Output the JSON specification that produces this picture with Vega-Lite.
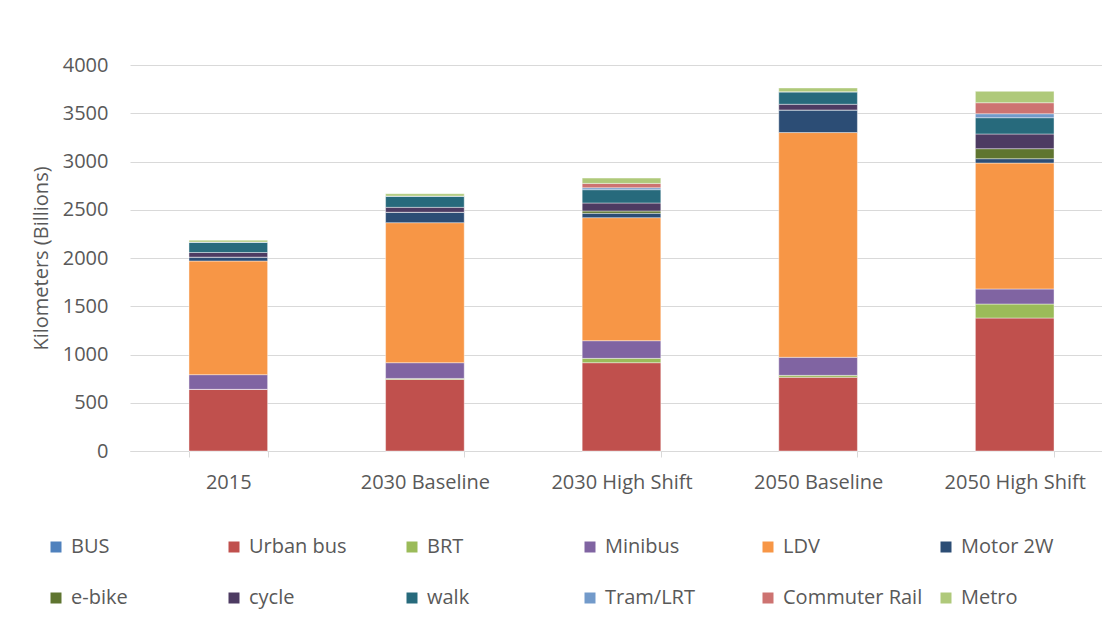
{
  "$schema": "https://vega.github.io/schema/vega-lite/v6.json",
  "autosize": {"type": "none"},
  "width": 972,
  "height": 386,
  "padding": {"left": 130, "top": 65, "right": 0, "bottom": 167},
  "background": "#ffffff",
  "config": {
    "view": {"stroke": null},
    "font": "Open Sans",
    "axis": {"labelFont": "Open Sans", "titleFont": "Open Sans"},
    "legend": {"labelFont": "Open Sans"}
  },
  "data": {
    "values": [
      {"scenario": "2015", "mode": "BUS", "km": 0},
      {"scenario": "2015", "mode": "Urban bus", "km": 639},
      {"scenario": "2015", "mode": "BRT", "km": 0},
      {"scenario": "2015", "mode": "Minibus", "km": 152},
      {"scenario": "2015", "mode": "LDV", "km": 1178},
      {"scenario": "2015", "mode": "Motor 2W", "km": 40},
      {"scenario": "2015", "mode": "e-bike", "km": 0},
      {"scenario": "2015", "mode": "cycle", "km": 48},
      {"scenario": "2015", "mode": "walk", "km": 108},
      {"scenario": "2015", "mode": "Tram/LRT", "km": 0},
      {"scenario": "2015", "mode": "Commuter Rail", "km": 0},
      {"scenario": "2015", "mode": "Metro", "km": 20},
      {"scenario": "2030 Baseline", "mode": "BUS", "km": 0},
      {"scenario": "2030 Baseline", "mode": "Urban bus", "km": 742},
      {"scenario": "2030 Baseline", "mode": "BRT", "km": 10},
      {"scenario": "2030 Baseline", "mode": "Minibus", "km": 163},
      {"scenario": "2030 Baseline", "mode": "LDV", "km": 1451},
      {"scenario": "2030 Baseline", "mode": "Motor 2W", "km": 108},
      {"scenario": "2030 Baseline", "mode": "e-bike", "km": 0},
      {"scenario": "2030 Baseline", "mode": "cycle", "km": 51},
      {"scenario": "2030 Baseline", "mode": "walk", "km": 117},
      {"scenario": "2030 Baseline", "mode": "Tram/LRT", "km": 0},
      {"scenario": "2030 Baseline", "mode": "Commuter Rail", "km": 0},
      {"scenario": "2030 Baseline", "mode": "Metro", "km": 24},
      {"scenario": "2030 High Shift", "mode": "BUS", "km": 0},
      {"scenario": "2030 High Shift", "mode": "Urban bus", "km": 915},
      {"scenario": "2030 High Shift", "mode": "BRT", "km": 45},
      {"scenario": "2030 High Shift", "mode": "Minibus", "km": 183},
      {"scenario": "2030 High Shift", "mode": "LDV", "km": 1275},
      {"scenario": "2030 High Shift", "mode": "Motor 2W", "km": 45},
      {"scenario": "2030 High Shift", "mode": "e-bike", "km": 24},
      {"scenario": "2030 High Shift", "mode": "cycle", "km": 83},
      {"scenario": "2030 High Shift", "mode": "walk", "km": 138},
      {"scenario": "2030 High Shift", "mode": "Tram/LRT", "km": 20},
      {"scenario": "2030 High Shift", "mode": "Commuter Rail", "km": 45},
      {"scenario": "2030 High Shift", "mode": "Metro", "km": 55},
      {"scenario": "2050 Baseline", "mode": "BUS", "km": 0},
      {"scenario": "2050 Baseline", "mode": "Urban bus", "km": 764},
      {"scenario": "2050 Baseline", "mode": "BRT", "km": 20},
      {"scenario": "2050 Baseline", "mode": "Minibus", "km": 187},
      {"scenario": "2050 Baseline", "mode": "LDV", "km": 2329},
      {"scenario": "2050 Baseline", "mode": "Motor 2W", "km": 234},
      {"scenario": "2050 Baseline", "mode": "e-bike", "km": 0},
      {"scenario": "2050 Baseline", "mode": "cycle", "km": 59},
      {"scenario": "2050 Baseline", "mode": "walk", "km": 130},
      {"scenario": "2050 Baseline", "mode": "Tram/LRT", "km": 0},
      {"scenario": "2050 Baseline", "mode": "Commuter Rail", "km": 0},
      {"scenario": "2050 Baseline", "mode": "Metro", "km": 39},
      {"scenario": "2050 High Shift", "mode": "BUS", "km": 0},
      {"scenario": "2050 High Shift", "mode": "Urban bus", "km": 1378},
      {"scenario": "2050 High Shift", "mode": "BRT", "km": 145},
      {"scenario": "2050 High Shift", "mode": "Minibus", "km": 156},
      {"scenario": "2050 High Shift", "mode": "LDV", "km": 1305},
      {"scenario": "2050 High Shift", "mode": "Motor 2W", "km": 45},
      {"scenario": "2050 High Shift", "mode": "e-bike", "km": 104},
      {"scenario": "2050 High Shift", "mode": "cycle", "km": 152},
      {"scenario": "2050 High Shift", "mode": "walk", "km": 169},
      {"scenario": "2050 High Shift", "mode": "Tram/LRT", "km": 41},
      {"scenario": "2050 High Shift", "mode": "Commuter Rail", "km": 114},
      {"scenario": "2050 High Shift", "mode": "Metro", "km": 118}
    ]
  },
  "transform": [
    {"calculate": "indexof(['BUS','Urban bus','BRT','Minibus','LDV','Motor 2W','e-bike','cycle','walk','Tram/LRT','Commuter Rail','Metro'], datum.mode)", "as": "stackOrder"}
  ],
  "mark": {"type": "bar", "stroke": "#ffffff", "strokeWidth": 0.7, "strokeOpacity": 0.6},
  "encoding": {
    "x": {
      "field": "scenario",
      "type": "nominal",
      "sort": null,
      "scale": {"range": [0, 983], "paddingInner": 0.6, "paddingOuter": 0.3},
      "axis": {
        "title": null,
        "labelAngle": 0,
        "labelFontSize": 20,
        "labelColor": "#595959",
        "labelPadding": 15,
        "domainColor": "#d9d9d9",
        "domainWidth": 1,
        "ticks": true,
        "tickBand": "extent",
        "tickSize": 6,
        "tickColor": "#d9d9d9",
        "grid": false
      }
    },
    "y": {
      "field": "km",
      "type": "quantitative",
      "aggregate": "sum",
      "stack": "zero",
      "scale": {"domain": [0, 4000], "nice": false},
      "axis": {
        "title": "Kilometers (Billions)",
        "titleFontSize": 20,
        "titleFontWeight": "normal",
        "titleColor": "#595959",
        "titlePadding": 11,
        "format": "d",
        "values": [0, 500, 1000, 1500, 2000, 2500, 3000, 3500, 4000],
        "labelFontSize": 20,
        "labelColor": "#595959",
        "labelPadding": 22,
        "domain": false,
        "ticks": false,
        "grid": true,
        "gridColor": "#d9d9d9",
        "gridWidth": 1
      }
    },
    "color": {
      "field": "mode",
      "type": "nominal",
      "scale": {
        "domain": ["BUS", "Urban bus", "BRT", "Minibus", "LDV", "Motor 2W", "e-bike", "cycle", "walk", "Tram/LRT", "Commuter Rail", "Metro"],
        "range": ["#4f81bd", "#c0504d", "#9bbb59", "#8064a2", "#f79646", "#2c4d75", "#5f7530", "#4d3b62", "#276a7c", "#729aca", "#cd7371", "#afc97a"]
      },
      "legend": {
        "title": null,
        "orient": "none",
        "legendX": -84,
        "legendY": 472,
        "direction": "horizontal",
        "columns": 6,
        "gridAlign": "all",
        "columnPadding": 13,
        "rowPadding": 31,
        "symbolType": "square",
        "symbolSize": 121,
        "symbolStrokeWidth": 0,
        "symbolOffset": 0,
        "labelOffset": 5,
        "labelFontSize": 20,
        "labelColor": "#595959",
        "labelLimit": 200
      }
    },
    "order": {"field": "stackOrder", "type": "quantitative"}
  }
}
